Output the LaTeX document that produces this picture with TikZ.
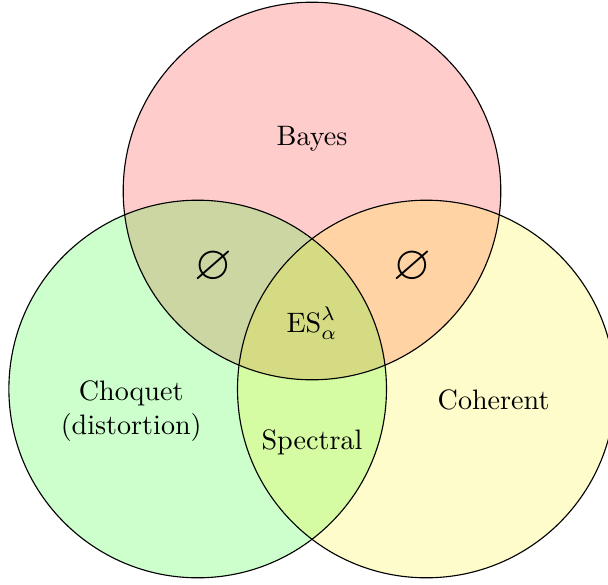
\documentclass[tikz,border=0pt]{standalone}
\usepackage{amsmath}
\usepackage{amssymb}
\usepackage{xcolor}
\usepackage{tikz}

\begin{document}
\begin{tikzpicture}
    % Fix picture size
    \useasboundingbox (-3.9,-3.2625) rectangle (3.7,4.0375);

    % Fill sets
    \foreach \ang/\col in {90/red,210/green,330/yellow} {
        \fill[\col, fill opacity=0.2] (\ang:1.65) circle (2.36);
    }

    % Draw set boundaries
    \foreach \ang in {90,210,330} {
        \draw (\ang:1.65) circle (2.36);
    }

    % Set labels
    \node (bayes) at (0, 2.3) {Bayes};
    \node[align=center] (choquet) at (-2.26, -1.1) {Choquet\\(distortion)};
    \node (coherent) at (2.27, -0.96) {Coherent};
    \node (spectral) at (0, -1.49) {Spectral};

    % Intersections
    \node (bc) at (-1.23, 0.7) {\LARGE $\varnothing$};
    \node (bh) at (1.25, 0.7) {\LARGE $\varnothing$};
    \node (es) at (0, 0) {$\mathrm{ES}_\alpha^\lambda$};
\end{tikzpicture}
\end{document}
